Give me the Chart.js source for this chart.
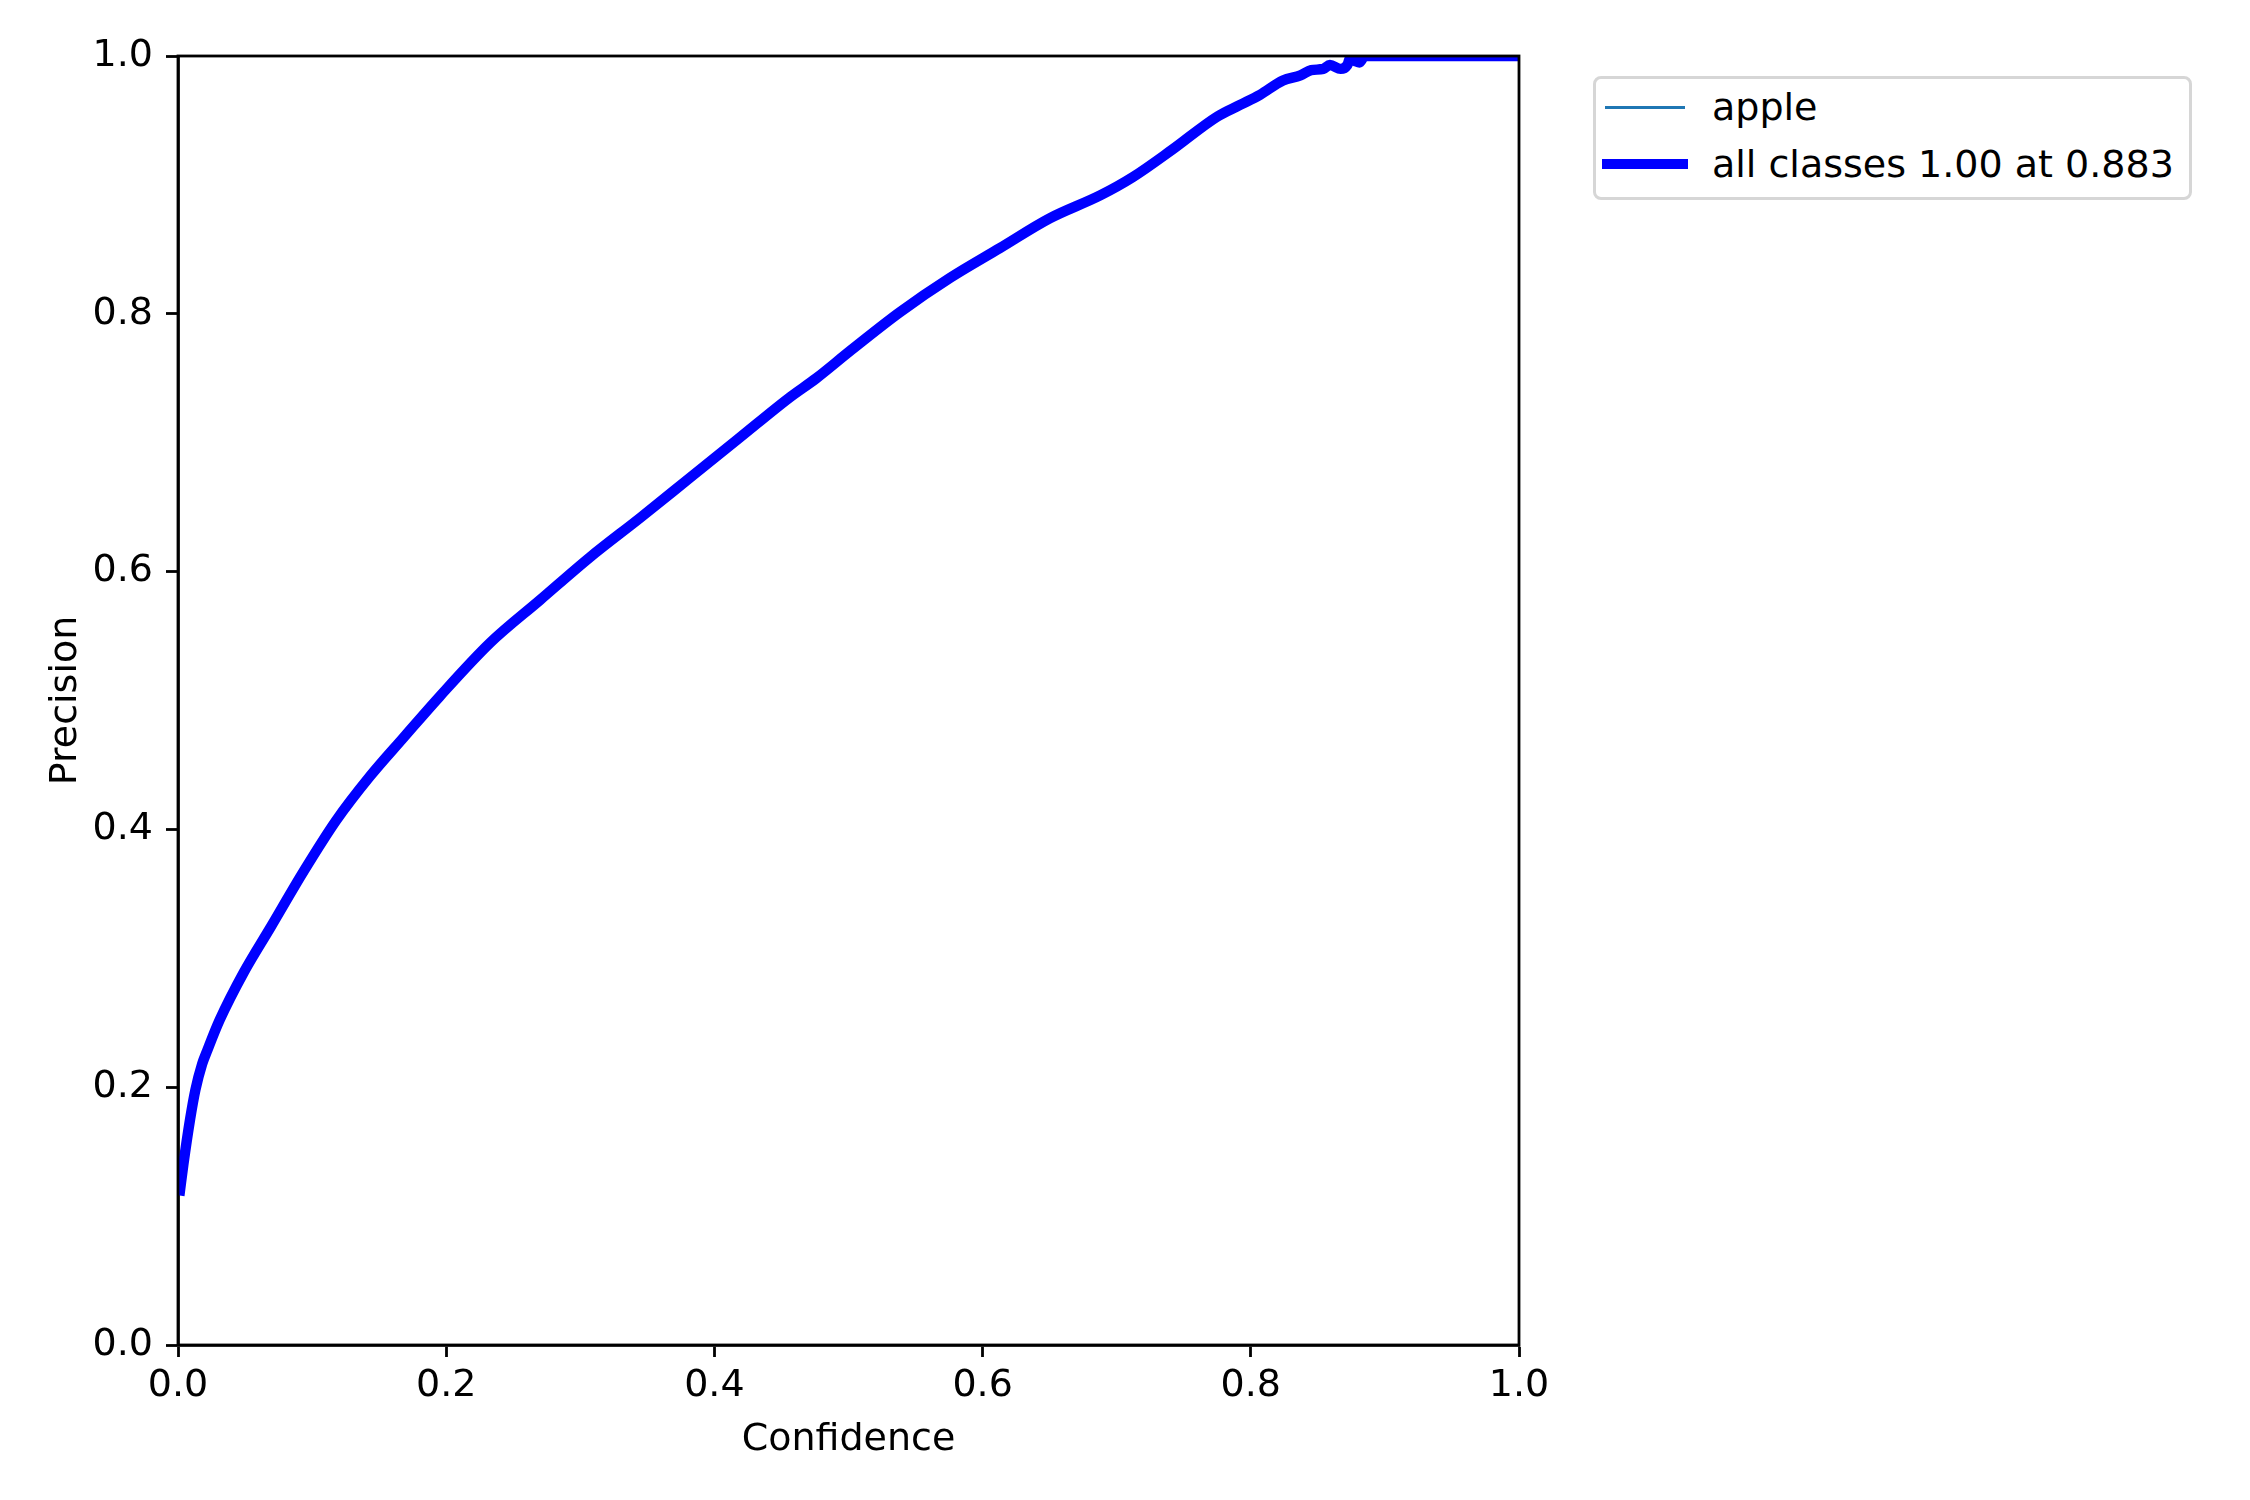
<!DOCTYPE html>
<html>
<head>
<meta charset="utf-8">
<script src="https://cdn.jsdelivr.net/npm/chart.js@4.4.1/dist/chart.umd.min.js"></script>
<style>
  html, body { margin: 0; padding: 0; background: #fff; }
  #wrap { position: relative; width: 2250px; height: 1500px; }
  #c { position: absolute; left: 0; top: 0; }
  #legend {
    position: absolute; left: 1593px; top: 76px; width: 599px; height: 124px;
    box-sizing: border-box; border: 3px solid #d6d6d6; border-radius: 8px; background: #fff;
    font-family: 'DejaVu Sans', sans-serif; font-size: 38px; color: #000;
  }
</style>
</head>
<body>
<div id="wrap">
  <canvas id="c" width="2250" height="1500"></canvas>
  <div id="legend"></div>
</div>
<script>
// ---- data ----
const seriesLabels = ['apple', 'all classes 1.00 at 0.883'];
const xAxisTitle = 'Confidence';
const yAxisTitle = 'Precision';
const xTickValues = [0.0, 0.2, 0.4, 0.6, 0.8, 1.0];
const yTickValues = [0.0, 0.2, 0.4, 0.6, 0.8, 1.0];

const confidence = [
  0.0015, 0.004, 0.009, 0.013, 0.018, 0.022, 0.031, 0.049, 0.069, 0.094,
  0.118, 0.143, 0.168, 0.195, 0.233, 0.270, 0.307, 0.345, 0.382, 0.419,
  0.456, 0.476, 0.501, 0.538, 0.576, 0.613, 0.650, 0.688, 0.712, 0.741,
  0.775, 0.792, 0.807, 0.824, 0.837, 0.845, 0.854, 0.859, 0.867, 0.872,
  0.874, 0.878, 0.881, 0.885, 1.000
];
const precisionApple = [
  0.120, 0.140, 0.175, 0.198, 0.218, 0.229, 0.252, 0.289, 0.324, 0.368,
  0.407, 0.441, 0.471, 0.503, 0.545, 0.578, 0.611, 0.642, 0.673, 0.704,
  0.735, 0.750, 0.771, 0.801, 0.828, 0.851, 0.874, 0.892, 0.906, 0.927,
  0.953, 0.962, 0.970, 0.981, 0.985, 0.989, 0.990, 0.993, 0.990, 0.993,
  0.998, 0.996, 0.995, 1.000, 1.000
];
const precisionAll = [
  0.120, 0.140, 0.175, 0.198, 0.218, 0.229, 0.252, 0.289, 0.324, 0.368,
  0.407, 0.441, 0.471, 0.503, 0.545, 0.578, 0.611, 0.642, 0.673, 0.704,
  0.735, 0.750, 0.771, 0.801, 0.828, 0.851, 0.874, 0.892, 0.906, 0.927,
  0.953, 0.962, 0.970, 0.981, 0.985, 0.989, 0.990, 0.993, 0.990, 0.993,
  0.998, 0.996, 0.995, 1.000, 1.000
];

// ---- chart ----
const FONT = 'DejaVu Sans';
const framePlugin = {
  id: 'frame',
  afterDatasetsDraw(chart) {
    const { ctx, chartArea: a } = chart;
    ctx.save();
    ctx.strokeStyle = '#000';
    ctx.lineWidth = 2.8;
    ctx.strokeRect(a.left, a.top, a.right - a.left, a.bottom - a.top);
    ctx.restore();
  }
};

const tickFont = { family: FONT, size: 38 };
const gridOpts = { drawOnChartArea: false, drawTicks: true, tickLength: 12, tickWidth: 2.8, tickColor: '#000' };
const borderOpts = { display: true, color: '#000', width: 2.8 };

const chart = new Chart(document.getElementById('c').getContext('2d'), {
  type: 'line',
  data: {
    datasets: [
      {
        label: seriesLabels[0],
        data: confidence.map((c, i) => ({ x: c, y: precisionApple[i] })),
        borderColor: '#1f77b4', backgroundColor: '#1f77b4',
        borderWidth: 3.5, order: 2, clip: 0
      },
      {
        label: seriesLabels[1],
        data: confidence.map((c, i) => ({ x: c, y: precisionAll[i] })),
        borderColor: '#0000ff', backgroundColor: '#0000ff',
        borderWidth: 10.4, order: 1, clip: 0
      }
    ]
  },
  options: {
    responsive: false,
    animation: false,
    devicePixelRatio: 1,
    layout: { padding: { left: 0, top: 56, right: 731, bottom: 25 } },
    plugins: { legend: { display: false }, tooltip: { enabled: false } },
    elements: {
      point: { radius: 0 },
      line: { cubicInterpolationMode: 'monotone', borderJoinStyle: 'round', borderCapStyle: 'square', fill: false }
    },
    scales: {
      x: {
        type: 'linear', min: 0, max: 1,
        afterFit(s) { s.height = 130; },
        afterBuildTicks(s) { s.ticks = xTickValues.map(v => ({ value: v })); },
        ticks: { callback: v => Number(v).toFixed(1), font: tickFont, color: '#000', padding: 6, maxRotation: 0, autoSkip: false },
        grid: gridOpts,
        border: borderOpts,
        title: { display: true, text: xAxisTitle, font: tickFont, color: '#000', padding: { top: 0, bottom: 12 } }
      },
      y: {
        type: 'linear', min: 0, max: 1,
        afterFit(s) { s.width = 178; },
        afterBuildTicks(s) { s.ticks = yTickValues.map(v => ({ value: v })); },
        ticks: { callback: v => Number(v).toFixed(1), font: tickFont, color: '#000', padding: 13, autoSkip: false },
        grid: gridOpts,
        border: borderOpts,
        title: { display: true, text: yAxisTitle, font: tickFont, color: '#000', padding: { top: 43, bottom: 0 } }
      }
    }
  },
  plugins: [framePlugin]
});

// ---- legend (built from the chart's datasets) ----
const legendEl = document.getElementById('legend');
chart.data.datasets.forEach((ds, i) => {
  const cy = 28.3 + 57 * i;
  const bw = ds.borderWidth;
  const line = document.createElement('div');
  line.style.cssText = `position:absolute;left:${11 - bw / 2}px;width:${76 + bw}px;top:${cy - bw / 2}px;height:${bw}px;background:${ds.borderColor};`;
  legendEl.appendChild(line);
  const txt = document.createElement('div');
  txt.textContent = ds.label;
  txt.style.cssText = `position:absolute;left:116px;top:${cy + 13.3 - 32.2}px;line-height:38px;white-space:nowrap;`;
  legendEl.appendChild(txt);
});
</script>
</body>
</html>
